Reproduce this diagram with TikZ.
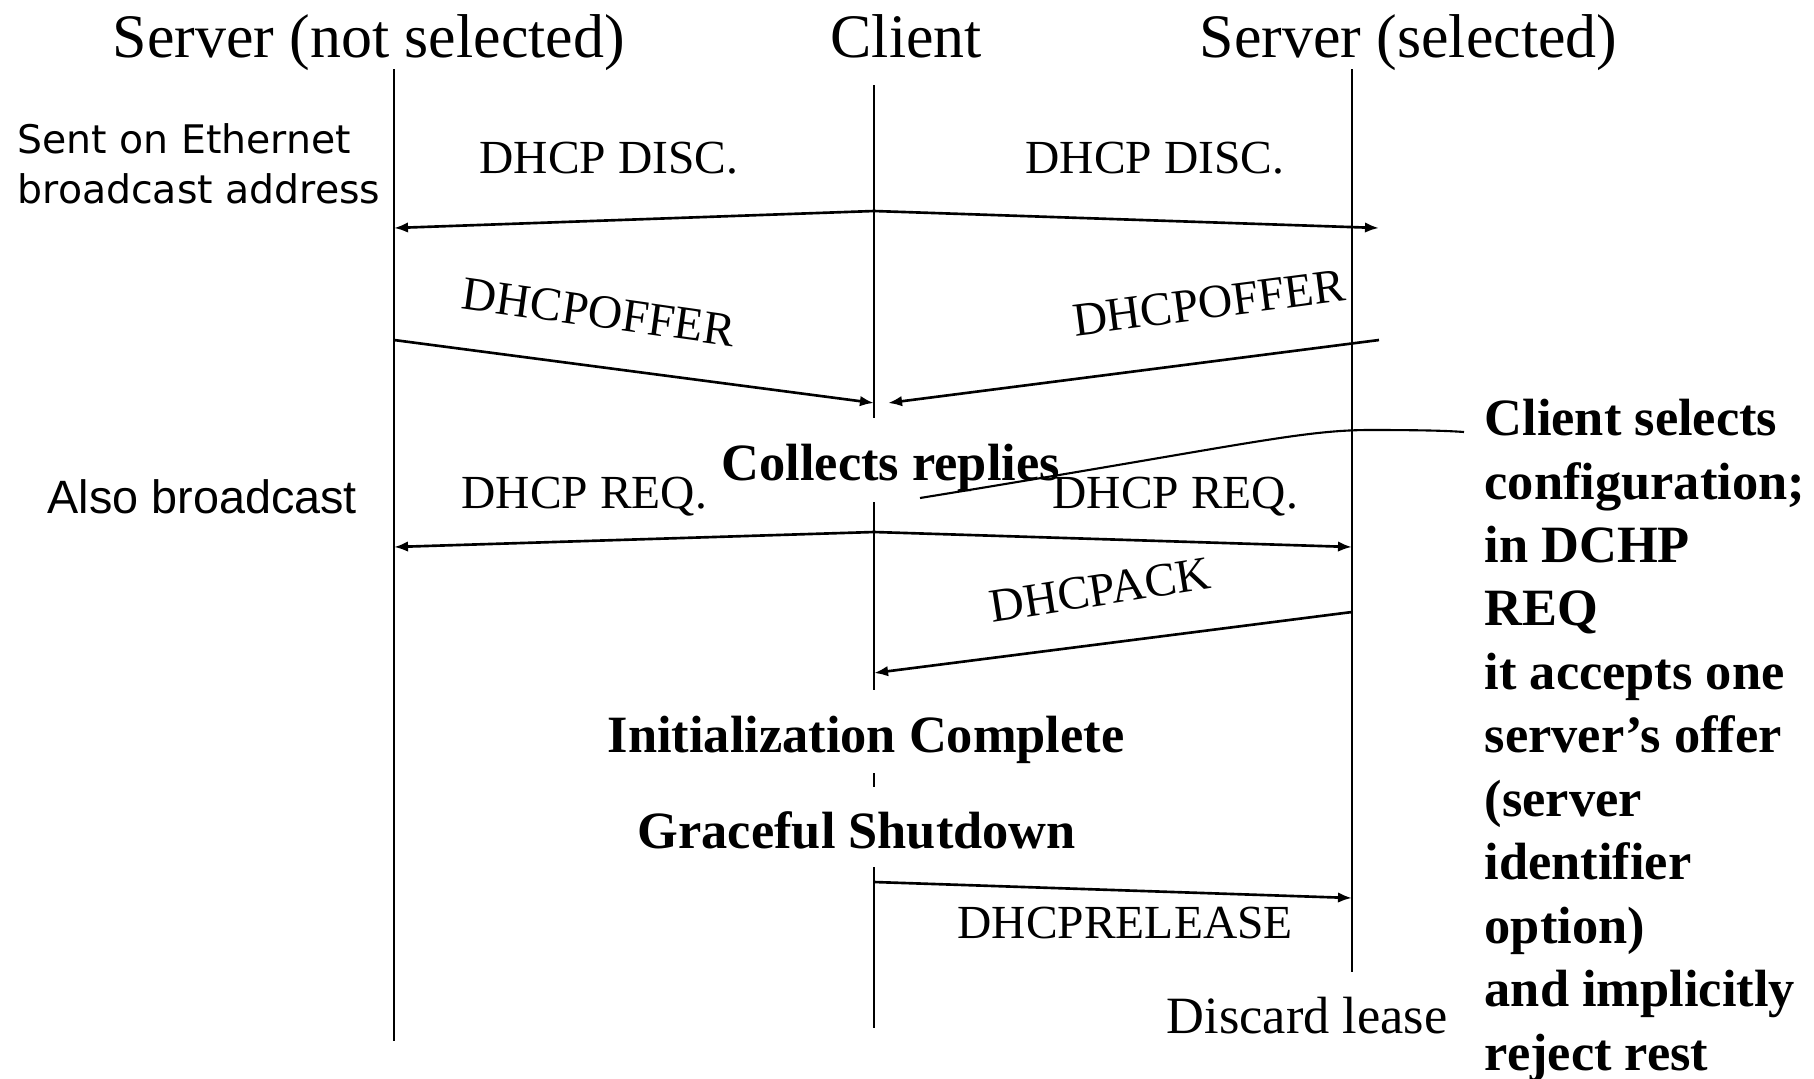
\documentclass[tikz,border=0pt]{standalone}
\usepackage{fontspec}
\setmainfont{Liberation Serif}
\newfontfamily\arialfont{Liberation Sans}
\newfontfamily\comicfont{DejaVu Sans}
\usetikzlibrary{arrows.meta,positioning}

\begin{document}
\begin{tikzpicture}[x=0.01cm, y=-0.01cm,
  life/.style={line width=0.5pt},
  msg/.style={line width=0.75pt, -{Latex[length=4pt,width=3pt]}},
  head/.style={font=\fontsize{17.6}{20}\selectfont, inner sep=0pt, anchor=base west},
  lbl/.style={font=\fontsize{13.5}{16}\selectfont, inner sep=0pt},
  boldlbl/.style={font=\fontsize{14.9}{18.04}\selectfont\bfseries, inner sep=0pt},
  note/.style={inner sep=0pt, anchor=base west}]
% page = 1814 x 1078 px, y runs downwards
\useasboundingbox (0,0) rectangle (1814,1078);
\def\xL{394}
\def\xC{874}
\def\xR{1352}
% column heads
\node[head] (hL) at (112,57) {Server (not selected)};
\node[head] (hC) at (830,57) {Client};
\node[head] (hR) at (1199,57) {Server (selected)};
% life lines (client line broken by the bold notes)
\draw[life] (\xL,69) -- (\xL,1041);
\draw[life] (\xR,69) -- (\xR,972);
\draw[life] (\xC,85) -- (\xC,418);
\draw[life] (\xC,502) -- (\xC,690);
\draw[life] (\xC,773) -- (\xC,787);
\draw[life] (\xC,867) -- (\xC,1028);
% end points of the messages
\coordinate (cDisc) at (\xC,211);
\coordinate (lDisc) at (\xL,228);
\coordinate (rDisc) at (1379,228);
\coordinate (lOffer) at (\xL,340);
\coordinate (cOfferL) at (\xC,403);
\coordinate (rOffer) at (1379,340);
\coordinate (cOfferR) at (888,403);
\coordinate (cReq) at (\xC,532);
\coordinate (lReq) at (\xL,547);
\coordinate (rReq) at (\xR,547);
\coordinate (rAck) at (\xR,612);
\coordinate (cAck) at (\xC,673);
\coordinate (cRel) at (\xC,882);
\coordinate (rRel) at (\xR,898);
% DHCPDISCOVER, broadcast both ways
\draw[msg] (cDisc) -- (lDisc);
\draw[msg] (cDisc) -- (rDisc);
\node[lbl, anchor=base west] (discL) at (479,173) {DHCP DISC.};
\node[lbl, anchor=base west] (discR) at (1025,173) {DHCP DISC.};
% offers
\draw[msg] (lOffer) -- (cOfferL);
\draw[msg] (rOffer) -- (cOfferR);
\node[lbl, rotate=-8] (offL) at (599,312) {DHCPOFFER};
\node[lbl, rotate=7.5] (offR) at (1209,303) {DHCPOFFER};
\node[boldlbl, anchor=base west] (collect) at (721,480) {Collects replies};
% request, again broadcast
\draw[msg] (cReq) -- (lReq);
\draw[msg] (cReq) -- (rReq);
\node[lbl, anchor=base west] (reqL) at (461,508) {DHCP REQ.};
\node[lbl, anchor=base west] (reqR) at (1052,508) {DHCP REQ.};
% ack
\draw[msg] (rAck) -- (cAck);
\node[lbl, rotate=9] (ack) at (1100,590) {DHCPACK};
\node[boldlbl, anchor=base west] (init) at (607,752) {Initialization Complete};
\node[boldlbl, anchor=base west] (shut) at (637,848) {Graceful Shutdown};
% release
\draw[msg] (cRel) -- (rRel);
\node[lbl, anchor=base west] (rel) at (957,938) {DHCPRELEASE};
\node[font=\fontsize{14.9}{18}\selectfont, note] (discard) at (1166,1033) {Discard lease};
% side notes (base = last line)
\node[font=\comicfont\fontsize{11.2}{14.2}\selectfont, note, align=left] (eth) at (17,203)
  {Sent on Ethernet\\broadcast address};
\node[font=\arialfont\fontsize{13.3}{16}\selectfont, note] (also) at (47,513) {Also broadcast};
\node[boldlbl, note, align=left] (sel) at (1484,1070)
  {Client selects\\configuration;\\in DCHP\\REQ\\it accepts one\\server’s offer\\(server\\identifier\\option)\\and implicitly\\reject rest};
\coordinate (selTail) at (920,498);
\coordinate (selHead) at (1464,432);
\draw[line width=0.6pt] (selTail) .. controls (1240,446) and (1300,430) .. (1370,430)
  .. controls (1430,430) and (1450,431) .. (selHead);
\end{tikzpicture}
\end{document}
